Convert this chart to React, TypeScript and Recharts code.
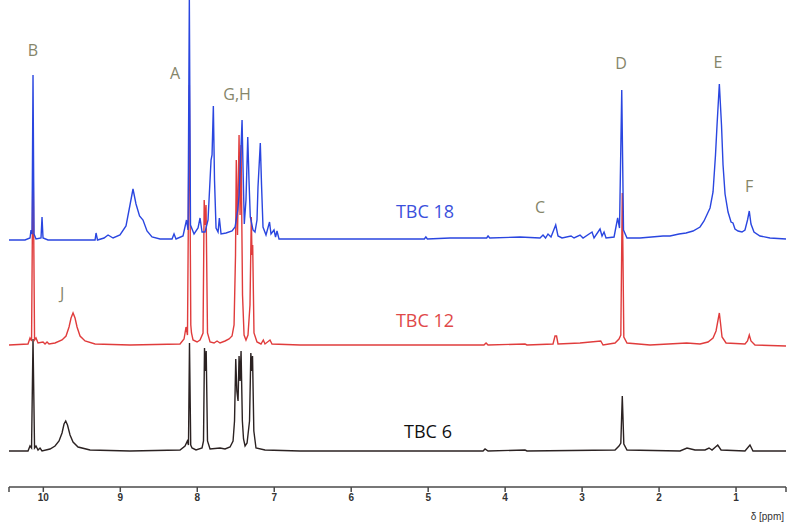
import { LineChart, Line, XAxis, YAxis, ReferenceDot } from 'recharts'

// [δ ppm, intensity above the trace's own baseline]
type Pt = [number, number]

const PPM_MIN = 0.351
const PPM_MAX = 10.446
const AXIS_TICKS = [PPM_MAX, 10, 9, 8, 7, 6, 5, 4, 3, 2, 1, PPM_MIN]

const tbc18: Pt[] = [
  [10.446, 0], [10.238, 0], [10.173, 2], [10.16, 10], [10.147, 6], [10.134, 165], [10.121, 6],
  [10.095, 1], [10.03, 2], [10.017, 23], [10.004, 2], [9.939, 0], [9.328, 0], [9.315, 7],
  [9.296, 0], [9.211, 2], [9.159, 5], [9.094, 2], [9.004, 5], [8.926, 14], [8.874, 35],
  [8.835, 51], [8.796, 36], [8.75, 24], [8.705, 20], [8.653, 9], [8.588, 3], [8.484, 1],
  [8.328, 1], [8.302, 6], [8.276, 1], [8.185, 4], [8.14, 20], [8.12, 10], [8.103, 242],
  [8.088, 15], [8.042, 6], [7.99, 12], [7.964, 22], [7.938, 8], [7.899, 8], [7.86, 20],
  [7.821, 80], [7.808, 85], [7.791, 134], [7.776, 60], [7.756, 12], [7.73, 8], [7.713, 22],
  [7.691, 6], [7.626, 7], [7.548, 9], [7.509, 13], [7.474, 30], [7.457, 45], [7.438, 80],
  [7.418, 120], [7.405, 70], [7.389, 16], [7.367, 40], [7.344, 103], [7.328, 60], [7.311, 23],
  [7.276, 10], [7.25, 8], [7.224, 20], [7.211, 53], [7.181, 97], [7.165, 55], [7.146, 13],
  [7.107, 5], [7.061, 18], [7.042, 6], [7.003, 10], [6.983, 3], [6.964, 9], [6.938, 1],
  [6.795, 1], [6.015, 1], [5.05, 1], [5.03, 3], [5.01, 1], [4.716, 2], [4.24, 2], [4.222, 4],
  [4.2, 2], [3.807, 3], [3.547, 2], [3.508, 5], [3.475, 2], [3.443, 6], [3.404, 3],
  [3.343, 15], [3.313, 4], [3.261, 2], [3.144, 4], [3.105, 2], [3.027, 5], [2.988, 2],
  [2.871, 8], [2.845, 2], [2.767, 11], [2.741, 4], [2.715, 8], [2.689, 2], [2.585, 3],
  [2.538, 22], [2.514, 12], [2.485, 150], [2.462, 10], [2.417, 2], [2.248, 2], [1.949, 4],
  [1.858, 4], [1.741, 6], [1.65, 7], [1.559, 9], [1.468, 13], [1.416, 19], [1.368, 27],
  [1.338, 32], [1.299, 48], [1.267, 85], [1.247, 115], [1.217, 156], [1.189, 115], [1.169, 75],
  [1.143, 46], [1.104, 28], [1.065, 18], [1.04, 17], [1.014, 11], [0.974, 9], [0.923, 8],
  [0.884, 10], [0.851, 20], [0.828, 29], [0.806, 16], [0.767, 8], [0.689, 4], [0.559, 2],
  [0.351, 1],
]

const tbc12: Pt[] = [
  [10.446, 0], [10.199, 1], [10.173, 7], [10.153, 4], [10.134, 200], [10.114, 5], [10.095, 7],
  [10.069, 2], [10.004, 3], [9.978, 1], [9.952, 3], [9.926, 1], [9.848, 2], [9.757, 5],
  [9.705, 9], [9.666, 18], [9.64, 27], [9.614, 32], [9.588, 27], [9.562, 18], [9.523, 9],
  [9.458, 4], [9.328, 1], [8.874, 0], [8.224, 1], [8.172, 6], [8.146, 18], [8.127, 10],
  [8.103, 260], [8.084, 20], [8.075, 12], [8.055, 5], [8.003, 3], [7.964, 5], [7.925, 12],
  [7.91, 145], [7.899, 120], [7.886, 140], [7.867, 12], [7.834, 3], [7.782, 2], [7.743, 4],
  [7.704, 2], [7.639, 4], [7.587, 6], [7.548, 9], [7.522, 20], [7.503, 90], [7.493, 185],
  [7.477, 110], [7.457, 210], [7.444, 130], [7.431, 200], [7.412, 50], [7.392, 10], [7.367, 5],
  [7.341, 10], [7.315, 40], [7.298, 128], [7.289, 90], [7.28, 100], [7.263, 12], [7.224, 3],
  [7.172, 1], [7.142, 5], [7.12, 1], [7.055, 5], [7.029, 1], [6.665, 0], [4.275, 0],
  [4.248, 2], [4.222, 0], [3.742, 1], [3.716, 0], [3.378, 1], [3.352, 9], [3.332, 9],
  [3.313, 1], [3.027, 2], [2.758, 4], [2.728, 0], [2.572, 2], [2.521, 6], [2.497, 10],
  [2.478, 152], [2.458, 8], [2.417, 2], [2.118, 0], [1.641, 2], [1.468, 1], [1.364, 3],
  [1.299, 7], [1.26, 14], [1.234, 25], [1.217, 32], [1.202, 22], [1.182, 8], [1.13, 2],
  [0.884, 1], [0.851, 4], [0.828, 10], [0.806, 4], [0.754, 0], [0.351, -1],
]

const tbc6: Pt[] = [
  [10.446, 0], [10.199, 0], [10.173, 5], [10.153, 3], [10.134, 112], [10.114, 3], [10.095, 5],
  [10.069, 1], [10.043, 3], [10.017, 0], [9.913, 2], [9.848, 5], [9.796, 10], [9.757, 18],
  [9.731, 27], [9.709, 30], [9.686, 26], [9.653, 16], [9.614, 9], [9.549, 4], [9.393, 1],
  [8.874, 0], [8.224, 1], [8.159, 5], [8.129, 10], [8.114, 6], [8.101, 108], [8.085, 6],
  [8.068, 3], [8.016, 1], [7.938, 3], [7.919, 10], [7.906, 103], [7.895, 80], [7.884, 100],
  [7.867, 10], [7.834, 2], [7.704, 3], [7.639, 2], [7.574, 4], [7.535, 10], [7.516, 30],
  [7.5, 92], [7.486, 60], [7.47, 50], [7.457, 95], [7.444, 70], [7.431, 100], [7.414, 30],
  [7.399, 12], [7.379, 5], [7.353, 8], [7.321, 30], [7.304, 98], [7.292, 80], [7.282, 95],
  [7.265, 20], [7.237, 3], [7.12, 1], [6.665, 0], [4.287, 0], [4.261, 2], [4.222, 0],
  [3.742, 1], [3.716, 0], [2.572, 1], [2.521, 5], [2.497, 8], [2.478, 55], [2.458, 7],
  [2.417, 1], [1.728, 0], [1.637, 3], [1.533, 1], [1.403, 1], [1.351, 3], [1.312, 1],
  [1.238, 6], [1.195, 1], [0.884, 0], [0.819, 6], [0.78, 0], [0.351, 0],
]

const peakLabels = [
  { text: 'B', ppm: 10.134, h: 190, axis: 'b' },
  { text: 'A', ppm: 8.289, h: 167, axis: 'b' },
  { text: 'G,H', ppm: 7.483, h: 146, axis: 'b' },
  { text: 'C', ppm: 3.547, h: 33, axis: 'b' },
  { text: 'D', ppm: 2.494, h: 177, axis: 'b' },
  { text: 'E', ppm: 1.234, h: 178, axis: 'b' },
  { text: 'F', ppm: 0.831, h: 54, axis: 'b' },
  { text: 'J', ppm: 9.757, h: 52, axis: 'r' },
]

const sampleLabels = [
  { text: 'TBC 18', ppm: 5.041, h: 28, axis: 'b', color: '#3b50dc' },
  { text: 'TBC 12', ppm: 5.041, h: 24, axis: 'r', color: '#e04848' },
  { text: 'TBC 6', ppm: 5.002, h: 19, axis: 'k', color: '#111111' },
]

const toRows = (pts: Pt[]) => pts.map(([ppm, h]) => ({ ppm, h }))

const fmtTick = (v: number) => (Number.isInteger(v) ? String(v) : '')

export default function App() {
  return (
    <div style={{ position: 'absolute', left: 0, top: 0, background: '#fff' }}>
      <LineChart width={796} height={522} margin={{ top: 0, right: 10, left: 9, bottom: 0 }}>
        <XAxis
          dataKey="ppm"
          type="number"
          domain={[PPM_MIN, PPM_MAX]}
          reversed
          allowDataOverflow
          ticks={AXIS_TICKS}
          interval={0}
          tickFormatter={fmtTick}
          height={35}
          tickSize={5}
          stroke="#4a4a4a"
          strokeWidth={1.5}
          tick={{ fontSize: 10, fill: '#333', fontFamily: 'Liberation Sans, Arial, sans-serif', fontWeight: 600 }}
          label={{ value: 'δ [ppm]', position: 'insideBottomRight', offset: 2, fontSize: 10, fill: '#333', fontFamily: 'Liberation Sans, Arial, sans-serif' }}
        />
        <YAxis yAxisId="b" hide domain={[-247, 240]} allowDataOverflow />
        <YAxis yAxisId="r" hide domain={[-142, 345]} allowDataOverflow />
        <YAxis yAxisId="k" hide domain={[-36, 451]} allowDataOverflow />

        <Line yAxisId="k" data={toRows(tbc6)} dataKey="h" type="linear" stroke="#2b2222" strokeWidth={1.4} dot={false} isAnimationActive={false} />
        <Line yAxisId="r" data={toRows(tbc12)} dataKey="h" type="linear" stroke="#e03c3c" strokeWidth={1.4} dot={false} isAnimationActive={false} />
        <Line yAxisId="b" data={toRows(tbc18)} dataKey="h" type="linear" stroke="#2a46e0" strokeWidth={1.4} dot={false} isAnimationActive={false} />

        {peakLabels.map(l => (
          <ReferenceDot
            key={l.text}
            yAxisId={l.axis}
            x={l.ppm}
            y={l.h}
            r={0}
            ifOverflow="visible"
            label={{ value: l.text, position: 'center', fontSize: 16, fill: '#85856a', fontFamily: 'Open Sans, sans-serif' }}
          />
        ))}
        {sampleLabels.map(l => (
          <ReferenceDot
            key={l.text}
            yAxisId={l.axis}
            x={l.ppm}
            y={l.h}
            r={0}
            ifOverflow="visible"
            label={{ value: l.text, position: 'center', fontSize: 18, fill: l.color, fontFamily: 'Open Sans, sans-serif' }}
          />
        ))}
      </LineChart>
    </div>
  )
}
